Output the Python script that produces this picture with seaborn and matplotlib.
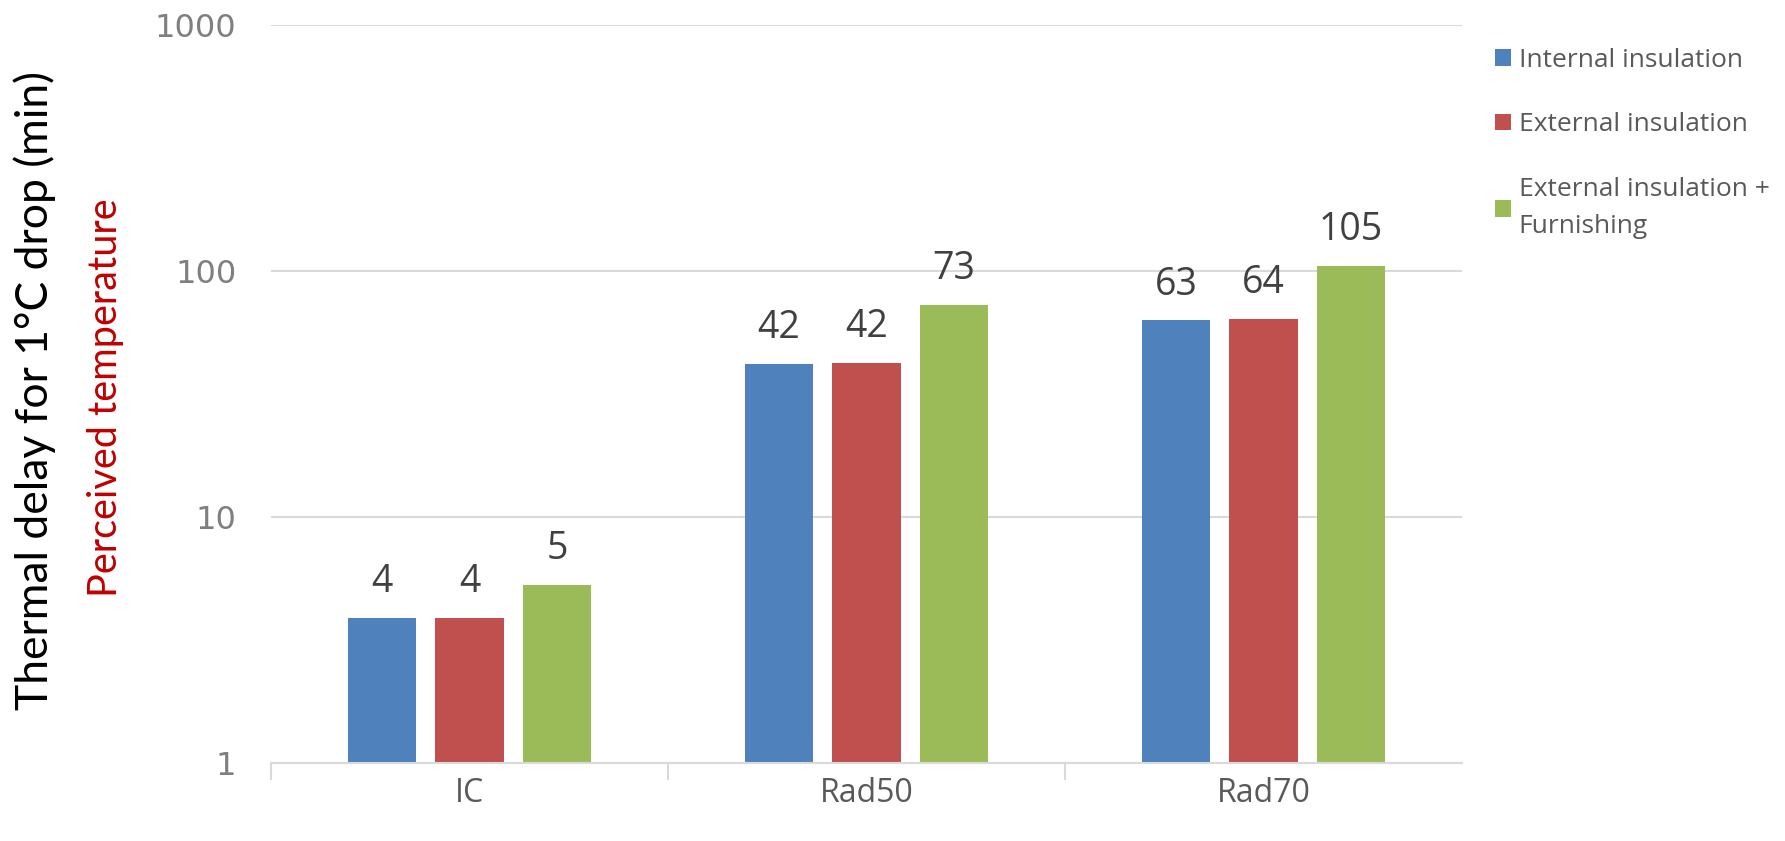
import matplotlib
matplotlib.use("Agg")
import matplotlib.pyplot as plt
import seaborn as sns
import pandas as pd

# data
categories = ["IC", "Rad50", "Rad70"]
series = ["Internal insulation", "External insulation", "External insulation +\nFurnishing"]
internal = [3.9, 41.9, 63.0]
external = [3.9, 42.3, 64.0]
external_furn = [5.3, 73.0, 105.0]
colors = ["#4F81BD", "#C0504D", "#9BBB59"]

df = pd.DataFrame({
    "case": categories * 3,
    "series": [s for s in series for _ in categories],
    "delay": internal + external + external_furn,
})

sns.set_style("white")
plt.rcParams["font.family"] = ["Open Sans", "DejaVu Sans"]

fig = plt.figure(figsize=(17.85, 8.41), dpi=100)
ax = fig.add_axes([271 / 1785, 1 - 763 / 841, (1462 - 271) / 1785, (763 - 25) / 841])
ax.set_yscale("log")

sns.barplot(data=df, x="case", y="delay", hue="series", palette=colors,
            width=0.662, gap=0.22, ax=ax, legend=True,
            saturation=1, errorbar=None, linewidth=0)

ax.set_ylim(1, 1000)
ax.set_xlim(-0.5, 2.5)
ax.set_yticks([1, 10, 100, 1000])
ax.set_yticklabels(["1", "10", "100", "1000"], fontsize=23, color="#7f7f7f",
                   family="DejaVu Sans")
ax.yaxis.set_minor_locator(matplotlib.ticker.NullLocator())
ax.yaxis.grid(True, color="#d9d9d9", linewidth=1.5)
ax.set_axisbelow(True)
ax.tick_params(axis="y", length=0, pad=25)
ax.tick_params(axis="x", length=0, pad=10, labelsize=23, labelcolor="#595959")
# category separator ticks
ax.set_xticks([-0.5, 0.5, 1.5], minor=True)
ax.tick_params(axis="x", which="minor", bottom=True, length=12, width=1.5, color="#d9d9d9")
for side in ["top", "right", "left"]:
    ax.spines[side].set_visible(False)
ax.spines["bottom"].set_color("#d9d9d9")
ax.spines["bottom"].set_linewidth(1.5)
ax.set_xlabel("")
ax.set_ylabel("")

for cont in ax.containers:
    ax.bar_label(cont, labels=[f"{v:.0f}" for v in cont.datavalues], padding=12,
                 fontsize=27, color="#404040")

handles, labels = ax.get_legend_handles_labels()
ax.get_legend().remove()
leg = fig.legend(handles, labels, loc="upper left", bbox_to_anchor=(1471 / 1785, 1 - 24 / 841),
                 frameon=False, fontsize=19, labelcolor="#595959", handlelength=0.6,
                 handleheight=0.6, handletextpad=0.3, labelspacing=1.5)
for t in leg.get_texts():
    t.set_linespacing(1.65)

fig.text(35 / 1785, 1 - 390 / 841, "Thermal delay for 1°C drop (min)", rotation=90,
         ha="center", va="center", fontsize=32, color="black", family=["Lato", "DejaVu Sans"])
fig.text(105 / 1785, 1 - 398 / 841, "Perceived temperature", rotation=90,
         ha="center", va="center", fontsize=28.5, color="#C00000", family=["Lato", "DejaVu Sans"])

fig.savefig("out.png", dpi=100)
